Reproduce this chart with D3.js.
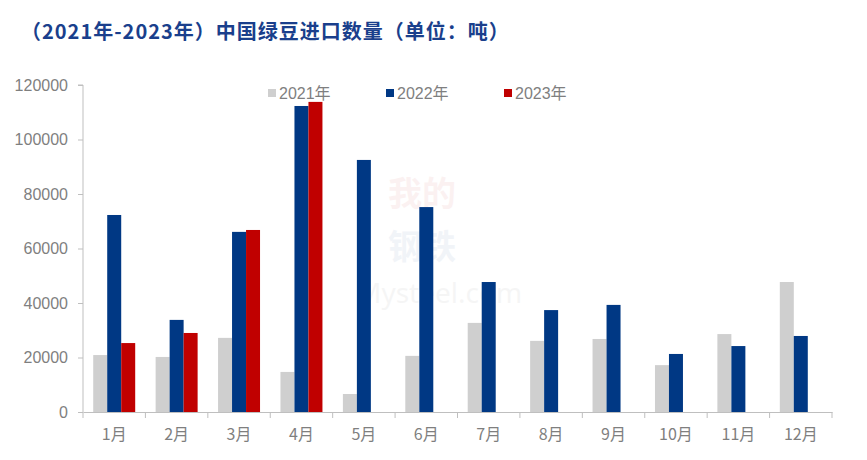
<!DOCTYPE html>
<html><head><meta charset="utf-8">
<script src="https://cdn.jsdelivr.net/npm/d3@7/dist/d3.min.js"></script>
<style>body{margin:0;background:#fff}svg{display:block}</style>
</head><body>
<svg id="c" width="867" height="460"></svg>
<script>
const months = ["1月","2月","3月","4月","5月","6月","7月","8月","9月","10月","11月","12月"];
const seriesNames = ["2021年","2022年","2023年"];
const v2021 = [20900,20200,27200,14700,6600,20600,32700,26100,26800,17200,28600,47700];
const v2022 = [72300,33800,66100,112300,92500,75200,47700,37400,39300,21300,24200,27900];
const v2023 = [25300,29000,66800,113800,null,null,null,null,null,null,null,null];
const yTicks = [0,20000,40000,60000,80000,100000,120000];
const colors = ["#cfcfcf","#003884","#c00000"];
const title = "（2021年-2023年）中国绿豆进口数量（单位：吨）";

const svg = d3.select("#c");
const m = {l:83, r:35, t:85, b:48};
const W = 867, H = 460;
const x = d3.scaleBand().domain(months).range([m.l, W-m.r]).paddingInner(0).paddingOuter(0);
const y = d3.scaleLinear().domain([0,120000]).range([412, 85]);
const inner = d3.scaleBand().domain(seriesNames).range([0, x.bandwidth()]).paddingInner(0).paddingOuter(0.73);

// watermark
const wm = svg.append("g").attr("opacity",0.05);
wm.append("text").attr("x",388).attr("y",206).attr("font-family","Noto Sans CJK SC").attr("font-weight","bold")
  .attr("font-size",34).attr("fill","#c00000").text("我的");
wm.append("text").attr("x",388).attr("y",259).attr("font-family","Noto Sans CJK SC").attr("font-weight","bold")
  .attr("font-size",34).attr("fill","#003884").text("钢铁");
wm.append("text").attr("x",356).attr("y",303).attr("font-family","Noto Sans").attr("font-size",28).attr("fill","#555").text("Mysteel.com");

svg.append("text").attr("x",21).attr("y",39).attr("font-family","Noto Sans CJK SC").attr("font-weight","bold")
  .attr("font-size",20).attr("letter-spacing",1).attr("fill","#1a3f8c").text(title);

// y axis
const ya = svg.append("g").attr("transform",`translate(${m.l},0)`)
  .call(d3.axisLeft(y).tickValues(yTicks).tickSize(5).tickPadding(10).tickFormat(d3.format("d")));
ya.select(".domain").attr("stroke","#bfbfbf").attr("d",`M-5,${y(120000)}H0V${y(0)}`);
ya.selectAll(".tick line").attr("stroke","#bfbfbf");
ya.selectAll("text").attr("font-family","Liberation Sans, Arial").attr("font-size",16).attr("fill","#7f7f7f");

// x axis
const xa = svg.append("g").attr("transform",`translate(0,${y(0)})`)
  .call(d3.axisBottom(x).tickSize(0).tickPadding(17));
xa.select(".domain").attr("stroke","#bfbfbf");
xa.selectAll("text").attr("font-family","Noto Sans CJK SC").attr("font-size",16).attr("fill","#7f7f7f");
xa.selectAll(".bt").data(months.concat(["end"])).enter().append("line")
  .attr("x1",(d,i)=> i<12 ? x(d) : x(months[11])+x.bandwidth())
  .attr("x2",(d,i)=> i<12 ? x(d) : x(months[11])+x.bandwidth())
  .attr("y1",0).attr("y2",6).attr("stroke","#bfbfbf");

const all = [v2021, v2022, v2023];
all.forEach((vals, si) => {
  svg.append("g").selectAll("rect").data(months.map((mo,i)=>({mo, v: vals[i]})).filter(d=>d.v!=null))
    .enter().append("rect")
    .attr("x", d => x(d.mo) + inner(seriesNames[si]))
    .attr("width", inner.bandwidth())
    .attr("y", d => y(d.v))
    .attr("height", d => y(0) - y(d.v))
    .attr("fill", colors[si]);
});

// legend
const lx = [268, 386, 504];
const lg = svg.append("g");
seriesNames.forEach((n,i)=>{
  lg.append("rect").attr("x",lx[i]).attr("y",89).attr("width",8).attr("height",8).attr("fill",colors[i]);
  lg.append("text").attr("x",lx[i]+11).attr("y",99).attr("font-family","Liberation Sans, Noto Sans CJK SC")
    .attr("font-size",16).attr("fill","#7f7f7f").text(n);
});
</script>
</body></html>
